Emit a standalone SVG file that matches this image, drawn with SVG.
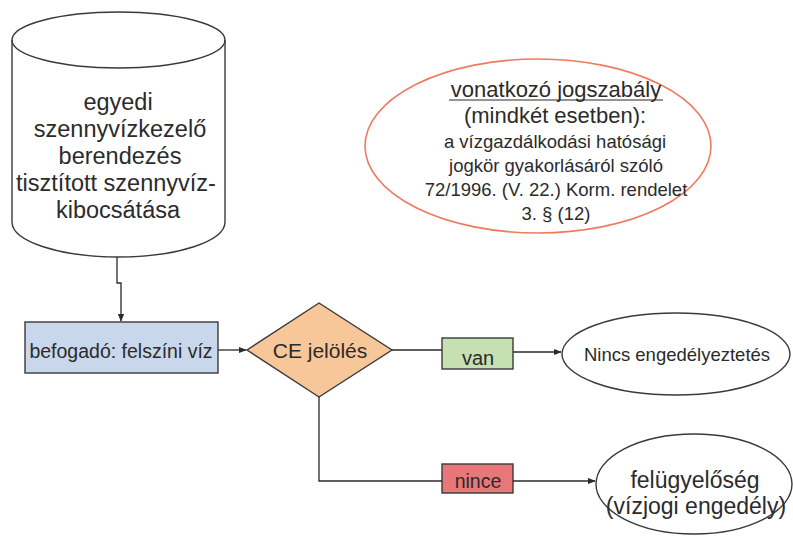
<svg xmlns="http://www.w3.org/2000/svg" width="793" height="536" viewBox="0 0 793 536">
  <style>
    text { font-family: "Liberation Sans", Arial, sans-serif; fill: #2b2b2b; text-anchor: middle; }
    .shape { stroke: #3a3a3a; stroke-width: 1.4; }
    .conn { fill: none; stroke: #2a2a2a; stroke-width: 1.3; }
  </style>
  <defs>
    <marker id="arrow" viewBox="0 0 10 10" refX="9" refY="5" markerWidth="8" markerHeight="8" markerUnits="userSpaceOnUse" orient="auto">
      <path d="M0,1 L10,5 L0,9 z" fill="#2a2a2a"/>
    </marker>
  </defs>
  <rect width="793" height="536" fill="#ffffff"/>

  <!-- source: cylinder -->
  <g id="cylinder">
    <path class="shape" fill="#ffffff" d="M12,40 A106.5,28 0 0 1 225,40 L225,222 A106.5,35 0 0 1 12,222 Z"/>
    <path class="shape" fill="none" d="M12,40 A106.5,28 0 0 0 225,40"/>
    <text font-size="23.5" x="118" y="110">egyedi</text>
    <text font-size="23.5" x="120" y="137">szennyvízkezelő</text>
    <text font-size="23.5" x="120" y="164">berendezés</text>
    <text font-size="23.5" x="116" y="191">tisztított szennyvíz-</text>
    <text font-size="23.5" x="118" y="218">kibocsátása</text>
  </g>

  <!-- legal note -->
  <g id="legal-note">
    <ellipse cx="538" cy="146" rx="173" ry="87" fill="#ffffff" stroke="#ef7a5e" stroke-width="1.6"/>
    <text font-size="22" x="556" y="97">vonatkozó jogszabály</text>
    <line x1="449" y1="100" x2="663" y2="100" stroke="#2b2b2b" stroke-width="1.2"/>
    <text font-size="22" x="555" y="123">(mindkét esetben):</text>
    <text font-size="18.5" x="555" y="148">a vízgazdálkodási hatósági</text>
    <text font-size="18.5" x="556" y="172">jogkör gyakorlásáról szóló</text>
    <text font-size="18.5" x="556" y="196">72/1996. (V. 22.) Korm. rendelet</text>
    <text font-size="18.5" x="556" y="220">3. § (12)</text>
  </g>

  <!-- receiving water -->
  <g id="receiver">
    <rect class="shape" x="25" y="322" width="193" height="51" fill="#c9d7ec"/>
    <text font-size="19.5" x="121" y="358">befogadó: felszíni víz</text>
  </g>

  <!-- decision -->
  <g id="decision">
    <polygon class="shape" points="319,303 392,350 319,397 247,350" fill="#f7c699"/>
    <text font-size="21" x="320" y="358">CE jelölés</text>
  </g>

  <!-- branch labels -->
  <g id="label-van">
    <rect class="shape" x="442" y="338" width="71" height="31" fill="#c7e0b1"/>
    <text font-size="20" x="478" y="365">van</text>
  </g>
  <g id="label-nince">
    <rect class="shape" x="442" y="464" width="71" height="29" fill="#e8777a"/>
    <text font-size="19.5" x="478" y="488">nince</text>
  </g>

  <!-- outcomes -->
  <g id="outcome-none">
    <ellipse class="shape" cx="676" cy="354" rx="114" ry="41" fill="#ffffff"/>
    <text font-size="18.5" x="677" y="361">Nincs engedélyeztetés</text>
  </g>
  <g id="outcome-authority">
    <ellipse class="shape" cx="694" cy="484" rx="98" ry="50" fill="#ffffff"/>
    <text font-size="23" x="695" y="488">felügyelőség</text>
    <text font-size="23" x="696" y="514">(vízjogi engedély)</text>
  </g>

  <!-- connectors -->
  <g id="connectors">
    <path class="conn" d="M117,257 L117,283 L121,283 L121,321" marker-end="url(#arrow)"/>
    <path class="conn" d="M218,350 L246,350" marker-end="url(#arrow)"/>
    <path class="conn" d="M392,350 L442,350"/>
    <path class="conn" d="M513,352 L561,352" marker-end="url(#arrow)"/>
    <path class="conn" d="M319,397 L319,481 L442,481"/>
    <path class="conn" d="M513,481 L595,481" marker-end="url(#arrow)"/>
  </g>
</svg>
